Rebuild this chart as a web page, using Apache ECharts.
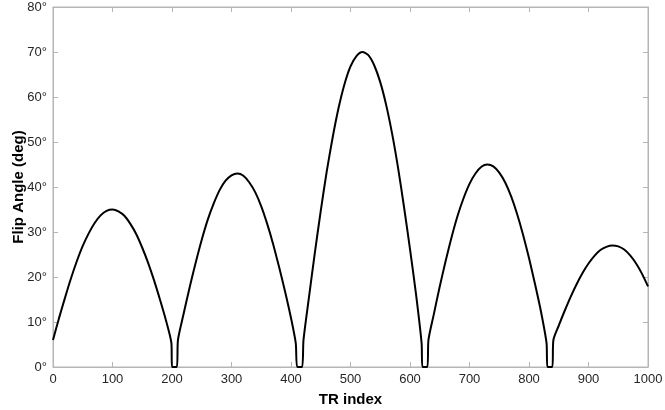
<!DOCTYPE html>
<html>
<head>
<meta charset="utf-8">
<script src="https://cdn.jsdelivr.net/npm/echarts@6/dist/echarts.min.js"></script>
<style>
  html, body { margin: 0; padding: 0; background: #fff; }
  #chart { width: 665px; height: 410px; }
</style>
</head>
<body>
<div id="chart"></div>
<script>
// Flip angle schedule: five lobes separated by short zero gaps
const trIndex = [
  0, 10, 20, 30, 40, 50, 60, 70, 80, 90, 100, 110, 120, 130, 140, 150, 160, 170, 180, 190, 199,
  200, 208,
  210, 220, 230, 240, 250, 260, 270, 280, 290, 300, 310, 320, 330, 340, 350, 360, 370, 380, 390, 400, 408,
  410.5, 418.5,
  421, 430, 440, 450, 460, 470, 480, 490, 500, 510, 520, 530, 540, 550, 560, 570, 580, 590, 600, 610, 619.5,
  621, 629,
  631, 640, 650, 660, 670, 680, 690, 700, 710, 720, 730, 740, 750, 760, 770, 780, 790, 800, 810, 820, 829.5,
  831, 839,
  841, 850, 860, 870, 880, 890, 900, 910, 920, 930, 940, 950, 960, 970, 980, 990, 1000
];
const flipAngle = [
  6.0, 10.8, 15.3, 19.6, 23.5, 26.9, 29.7, 32.0, 33.7, 34.7, 35.0, 34.6, 33.6, 31.8, 29.5, 26.5, 23.1, 19.2, 14.9, 10.3, 5.3,
  0, 0,
  6.0, 12.1, 17.9, 23.3, 28.3, 32.7, 36.3, 39.3, 41.4, 42.6, 43.0, 42.5, 41.0, 38.8, 35.7, 31.8, 27.3, 22.2, 16.8, 10.9, 5.3,
  0, 0,
  6.0, 15.3, 25.3, 34.7, 43.4, 51.0, 57.6, 62.9, 66.8, 69.1, 70.0, 69.3, 67.0, 63.3, 58.2, 51.8, 44.2, 35.5, 26.2, 16.3, 5.3,
  0, 0,
  6.0, 11.7, 17.9, 23.6, 28.9, 33.6, 37.5, 40.7, 43.0, 44.5, 45.0, 44.6, 43.2, 41.0, 37.9, 34.0, 29.4, 24.2, 18.5, 12.4, 5.3,
  0, 0,
  6.0, 9.2, 12.5, 15.6, 18.4, 20.9, 23.0, 24.7, 26.0, 26.7, 27.0, 26.8, 26.1, 24.8, 23.0, 20.7, 17.9
];
const xTicks = { min: 0, max: 1000, step: 100 };
const yTicks = { min: 0, max: 80, step: 10 };

const points = trIndex.map((x, i) => [x, flipAngle[i]]);

const frameColor = '#b5b5b5';
const labelColor = '#262626';
const fontFamily = 'Liberation Sans, Arial, Helvetica, sans-serif';

const chart = echarts.init(document.getElementById('chart'), null, { renderer: 'canvas' });

function makeAxis(range, extra) {
  return Object.assign({
    type: 'value', show: true, min: range.min, max: range.max, interval: range.step,
    axisLine: { show: true, onZero: false, lineStyle: { color: frameColor, width: 1 } },
    axisTick: { show: true, inside: true, length: 5, lineStyle: { color: frameColor } },
    splitLine: { show: false }
  }, extra);
}

chart.setOption({
  animation: false,
  backgroundColor: '#ffffff',
  grid: {
    left: 53, right: 17, top: 7, bottom: 43, containLabel: false, outerBoundsMode: 'none',
    show: true, borderColor: frameColor, borderWidth: 1, backgroundColor: 'transparent'
  },
  xAxis: [
    makeAxis(xTicks, {
      position: 'bottom',
      name: 'TR index', nameLocation: 'middle', nameGap: 25, nameMoveOverlap: false,
      nameTextStyle: { fontFamily, fontSize: 15, fontWeight: 'bold', color: '#000' },
      axisLabel: { color: labelColor, fontFamily, fontSize: 13, margin: 6, formatter: (v) => String(v) }
    }),
    makeAxis(xTicks, { position: 'top', gridIndex: 0, axisLabel: { show: false } })
  ],
  yAxis: [
    makeAxis(yTicks, {
      position: 'left',
      name: 'Flip Angle (deg)', nameLocation: 'middle', nameGap: 27, nameMoveOverlap: false,
      nameTextStyle: { fontFamily, fontSize: 15, fontWeight: 'bold', color: '#000' },
      axisLabel: { color: labelColor, fontFamily, fontSize: 13, margin: 6, formatter: '{value}°' }
    }),
    makeAxis(yTicks, { position: 'right', gridIndex: 0, axisLabel: { show: false } })
  ],
  series: [{
    type: 'line',
    data: points,
    showSymbol: false,
    smooth: 0.25,
    lineStyle: { color: '#000000', width: 2 },
    xAxisIndex: 0, yAxisIndex: 0
  }]
});
</script>
</body>
</html>
